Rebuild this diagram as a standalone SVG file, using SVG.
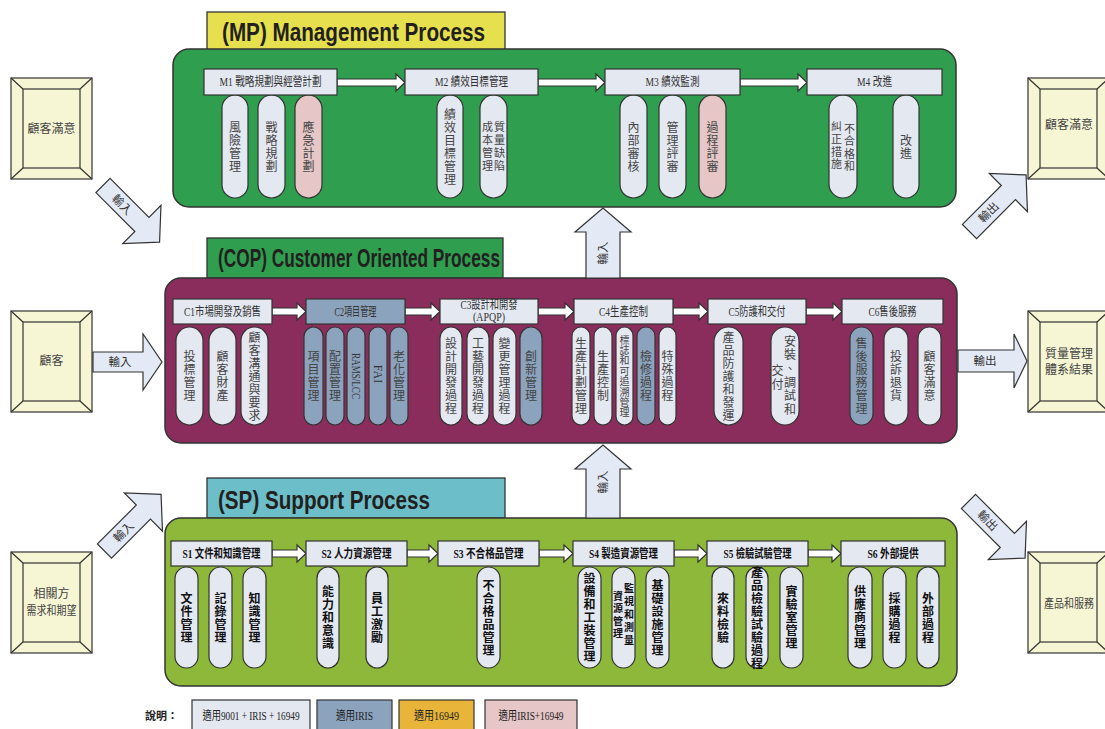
<svg xmlns="http://www.w3.org/2000/svg" width="1105" height="729" viewBox="0 0 1105 729">
<style>
text{font-family:"Liberation Serif","Noto Sans CJK TC",serif;}
.title{font-family:"Liberation Sans","Noto Sans CJK TC",sans-serif;font-weight:bold;font-size:25px;fill:#231f20;}
.sec{stroke:#333;stroke-width:1.5;}
.tbox{stroke:#333;stroke-width:1.3;}
.hdr{fill:#E4E8F1;stroke:#333;stroke-width:1.2;}
.hdrb{fill:#8CA3BE;stroke:#333;stroke-width:1.2;}
.pill{fill:#E4E8F1;stroke:#333;stroke-width:1.2;}
.pb{fill:#8CA3BE;}
.pp{fill:#E6C6C6;}
.ht{font-size:12.5px;fill:#333;text-anchor:middle;dominant-baseline:central;}
.hts{font-size:12.5px;fill:#111;font-weight:bold;text-anchor:middle;dominant-baseline:central;}
.v,.vs,.vb,.vbs{font-family:"Noto Sans CJK TC","Noto Sans CJK JP",sans-serif;writing-mode:vertical-rl;font-size:12px;letter-spacing:1px;}
.v{text-anchor:middle;fill:#444;}
.vs{text-anchor:start;fill:#444;}
.vb{text-anchor:middle;fill:#111;font-weight:bold;}
.vbs{text-anchor:start;fill:#111;font-weight:bold;}
.lat{font-family:"Liberation Serif",serif;font-size:12px;fill:#333;text-anchor:middle;dominant-baseline:central;}
.conn{fill:#fff;stroke:#333;stroke-width:1.2;}
.io{fill:#E3EAF5;stroke:#333;stroke-width:1.2;}
.iot{font-size:11.5px;fill:#333;text-anchor:middle;dominant-baseline:central;}
.frame{fill:#F7F6D4;stroke:#333;stroke-width:1.2;}
.ft{font-size:12px;fill:#444;text-anchor:middle;dominant-baseline:central;}
.lg{stroke:#333;stroke-width:1.2;}
.lt{font-size:12px;fill:#222;text-anchor:middle;dominant-baseline:central;}
</style>

<!-- Section: MP -->
<g id="mp-section">
<rect class="tbox" x="207" y="12" width="298" height="38" fill="#E6E04E"/>
<text class="title" x="222" y="41" textLength="263" lengthAdjust="spacingAndGlyphs">(MP) Management Process</text>
<rect class="sec" x="173" y="49" width="783" height="158" rx="16" fill="#2F9E4F"/>
</g>
<!-- Section: COP -->
<g id="cop-section">
<rect class="tbox" x="207" y="238" width="296" height="40" fill="#2F9E4F"/>
<text class="title" x="218" y="267" textLength="282" lengthAdjust="spacingAndGlyphs">(COP) Customer Oriented Process</text>
<rect class="sec" x="165" y="278" width="792" height="165" rx="16" fill="#8B2D5C"/>
</g>
<!-- Section: SP -->
<g id="sp-section">
<rect class="tbox" x="207" y="478" width="298" height="40" fill="#6CBFC8"/>
<text class="title" x="218" y="509" textLength="212" lengthAdjust="spacingAndGlyphs">(SP) Support Process</text>
<rect class="sec" x="165" y="518" width="792" height="168" rx="16" fill="#8DB83A"/>
</g>

<!-- Connectors -->
<g id="connectors">
<path class="conn" d="M337,79 L396,79 L396,74 L405,82.5 L396,91 L396,86 L337,86 Z"/>
<path class="conn" d="M538,79 L596,79 L596,74 L605,82.5 L596,91 L596,86 L538,86 Z"/>
<path class="conn" d="M740,79 L798,79 L798,74 L807,82.5 L798,91 L798,86 L740,86 Z"/>
<path class="conn" d="M272,308 L297,308 L297,303 L306,311.5 L297,320 L297,315 L272,315 Z"/>
<path class="conn" d="M405,308 L431,308 L431,303 L440,311.5 L431,320 L431,315 L405,315 Z"/>
<path class="conn" d="M538,308 L565,308 L565,303 L574,311.5 L565,320 L565,315 L538,315 Z"/>
<path class="conn" d="M673,308 L699,308 L699,303 L708,311.5 L699,320 L699,315 L673,315 Z"/>
<path class="conn" d="M806,308 L833,308 L833,303 L842,311.5 L833,320 L833,315 L806,315 Z"/>
<path class="conn" d="M272,550 L297,550 L297,545 L306,553.5 L297,562 L297,557 L272,557 Z"/>
<path class="conn" d="M407,550 L429,550 L429,545 L438,553.5 L429,562 L429,557 L407,557 Z"/>
<path class="conn" d="M539,550 L564,550 L564,545 L573,553.5 L564,562 L564,557 L539,557 Z"/>
<path class="conn" d="M674,550 L698,550 L698,545 L707,553.5 L698,562 L698,557 L674,557 Z"/>
<path class="conn" d="M808,550 L832,550 L832,545 L841,553.5 L832,562 L832,557 L808,557 Z"/>
<g transform="translate(103,185.5) rotate(45)"><path class="io" d="M0,-10 L55,-10 L55,-27 L80,0 L55,27 L55,10 L0,10 Z"/><text class="iot" x="27" y="0">輸入</text></g>
<g transform="translate(93,362)"><path class="io" d="M0,-10 L50,-10 L50,-28 L69,0 L50,28 L50,10 L0,10 Z"/><text class="iot" x="27" y="0">輸入</text></g>
<g transform="translate(104.5,551) rotate(-45)"><path class="io" d="M0,-10 L55,-10 L55,-27 L80,0 L55,27 L55,10 L0,10 Z"/><text class="iot" x="27" y="0">輸入</text></g>
<g transform="translate(969.5,231.5) rotate(-45)"><path class="io" d="M0,-10 L55,-10 L55,-27 L80,0 L55,27 L55,10 L0,10 Z"/><text class="iot" x="27" y="0">輸出</text></g>
<g transform="translate(958,361)"><path class="io" d="M0,-11 L56,-11 L56,-27 L69,0 L56,27 L56,11 L0,11 Z"/><text class="iot" x="27" y="0">輸出</text></g>
<g transform="translate(968.5,501.5) rotate(45)"><path class="io" d="M0,-10 L55,-10 L55,-27 L80,0 L55,27 L55,10 L0,10 Z"/><text class="iot" x="27" y="0">輸出</text></g>
<g transform="translate(603,278) rotate(-90)"><path class="io" d="M0,-17 L46,-17 L46,-28 L70,0 L46,28 L46,17 L0,17 Z"/><text class="iot" x="25" y="0">輸入</text></g>
<g transform="translate(603,518) rotate(-90)"><path class="io" d="M0,-17 L49,-17 L49,-28 L73,0 L49,28 L49,17 L0,17 Z"/><text class="iot" x="36" y="0">輸入</text></g>
</g>

<!-- Left frames -->
<g id="in-satisfaction"><rect class="frame" x="11" y="78" width="81" height="101"/><rect class="frame" x="23" y="89" width="57" height="79"/><path class="frame" d="M11,78 L23,89 M92,78 L80,89 M11,179 L23,168 M92,179 L80,168"/><text class="ft" x="51.5" y="128.5">顧客滿意</text></g>
<g id="in-customer"><rect class="frame" x="11" y="311" width="81" height="101"/><rect class="frame" x="23" y="322" width="57" height="79"/><path class="frame" d="M11,311 L23,322 M92,311 L80,322 M11,412 L23,401 M92,412 L80,401"/><text class="ft" x="51.5" y="361">顧客</text></g>
<g id="in-parties"><rect class="frame" x="11" y="552" width="81" height="101"/><rect class="frame" x="23" y="563" width="57" height="79"/><path class="frame" d="M11,552 L23,563 M92,552 L80,563 M11,653 L23,642 M92,653 L80,642"/><text class="ft" x="51.5" y="594">相關方</text><text class="ft" x="51.5" y="611" textLength="50" lengthAdjust="spacingAndGlyphs">需求和期望</text></g>
<!-- Right frames -->
<g id="out-satisfaction"><rect class="frame" x="1028" y="78" width="81" height="101"/><rect class="frame" x="1040" y="89" width="57" height="79"/><path class="frame" d="M1028,78 L1040,89 M1109,78 L1097,89 M1028,179 L1040,168 M1109,179 L1097,168"/><text class="ft" x="1069" y="125">顧客滿意</text></g>
<g id="out-qms"><rect class="frame" x="1028" y="311" width="81" height="101"/><rect class="frame" x="1040" y="322" width="57" height="79"/><path class="frame" d="M1028,311 L1040,322 M1109,311 L1097,322 M1028,412 L1040,401 M1109,412 L1097,401"/><text class="ft" x="1069" y="354">質量管理</text><text class="ft" x="1069" y="370">體系結果</text></g>
<g id="out-products"><rect class="frame" x="1028" y="552" width="81" height="101"/><rect class="frame" x="1040" y="563" width="57" height="79"/><path class="frame" d="M1028,552 L1040,563 M1109,552 L1097,563 M1028,653 L1040,642 M1109,653 L1097,642"/><text class="ft" x="1069" y="604" textLength="50" lengthAdjust="spacingAndGlyphs">產品和服務</text></g>

<!-- MP nodes -->
<g id="m1-p1"><rect class="pill" x="222" y="95" width="26" height="103" rx="13"/><text class="v" x="235" y="147">風險管理</text></g>
<g id="m1-p2"><rect class="pill" x="258" y="95" width="27" height="103" rx="13.5"/><text class="v" x="271.5" y="147">戰略規劃</text></g>
<g id="m1-p3"><rect class="pill pp" x="295" y="95" width="27" height="103" rx="13.5"/><text class="v" x="308.5" y="147">應急計劃</text></g>
<g id="m2-p1"><rect class="pill" x="437" y="95" width="26" height="103" rx="13"/><text class="v" x="450" y="147">績效目標管理</text></g>
<g id="m2-p2"><rect class="pill" x="480" y="95" width="27" height="103" rx="13.5"/><text class="vs" style="font-size:11px;letter-spacing:2px"><tspan x="499.5" y="121">質量缺陷</tspan><tspan x="487.5" y="121">成本管理</tspan></text></g>
<g id="m3-p1"><rect class="pill" x="620" y="95" width="27" height="103" rx="13.5"/><text class="v" x="633.5" y="147">內部審核</text></g>
<g id="m3-p2"><rect class="pill" x="659" y="95" width="27" height="103" rx="13.5"/><text class="v" x="672.5" y="147">管理評審</text></g>
<g id="m3-p3"><rect class="pill pp" x="699" y="95" width="27" height="103" rx="13.5"/><text class="v" x="712.5" y="147">過程評審</text></g>
<g id="m4-p1"><rect class="pill" x="829" y="95" width="28" height="103" rx="14"/><text class="vs" style="font-size:11px;letter-spacing:1.5px"><tspan x="849.5" y="123">不合格和</tspan><tspan x="836.5" y="121">糾正措施</tspan></text></g>
<g id="m4-p2"><rect class="pill" x="893" y="95" width="26" height="103" rx="13"/><text class="v" x="906" y="147">改進</text></g>
<g id="m1"><rect class="hdr" x="204" y="69" width="133" height="26"/><text class="ht" x="270.5" y="82" textLength="102" lengthAdjust="spacingAndGlyphs">M1 戰略規劃與經營計劃</text></g>
<g id="m2"><rect class="hdr" x="405" y="69" width="133" height="26"/><text class="ht" x="471.5" y="82" textLength="73" lengthAdjust="spacingAndGlyphs">M2 績效目標管理</text></g>
<g id="m3"><rect class="hdr" x="605" y="69" width="135" height="26"/><text class="ht" x="672.5" y="82" textLength="54" lengthAdjust="spacingAndGlyphs">M3 績效監測</text></g>
<g id="m4"><rect class="hdr" x="807" y="69" width="135" height="26"/><text class="ht" x="874.5" y="82" textLength="35" lengthAdjust="spacingAndGlyphs">M4 改進</text></g>

<!-- COP nodes -->
<g id="c1-p1"><rect class="pill" x="176" y="327" width="27" height="98" rx="13.5"/><text class="v" x="189.5" y="376.5">投標管理</text></g>
<g id="c1-p2"><rect class="pill" x="209" y="327" width="27" height="98" rx="13.5"/><text class="v" x="222.5" y="376.5">顧客財產</text></g>
<g id="c1-p3"><rect class="pill" x="241" y="327" width="27" height="98" rx="13.5"/><text class="v" x="254.5" y="376.5">顧客溝通與要求</text></g>
<g id="c2-p1"><rect class="pill pb" x="304" y="327" width="19" height="98" rx="9.5"/><text class="v" x="313.5" y="376.5">項目管理</text></g>
<g id="c2-p2"><rect class="pill pb" x="326" y="327" width="18" height="98" rx="9"/><text class="v" x="335" y="376.5">配置管理</text></g>
<g id="c2-p3"><rect class="pill pb" x="347" y="327" width="18" height="98" rx="9"/><text class="lat" transform="translate(356,376) rotate(90)" x="0" y="0" textLength="46" lengthAdjust="spacingAndGlyphs">RAMS/LCC</text></g>
<g id="c2-p4"><rect class="pill pb" x="369" y="327" width="18" height="98" rx="9"/><text class="lat" transform="translate(378,374) rotate(90)" x="0" y="0">FAI</text></g>
<g id="c2-p5"><rect class="pill pb" x="390" y="327" width="18" height="98" rx="9"/><text class="v" x="399" y="376.5">老化管理</text></g>
<g id="c3-p1"><rect class="pill" x="440" y="327" width="22" height="98" rx="11"/><text class="v" x="451" y="376.5">設計開發過程</text></g>
<g id="c3-p2"><rect class="pill" x="467" y="327" width="22" height="98" rx="11"/><text class="v" x="478" y="376.5">工藝開發過程</text></g>
<g id="c3-p3"><rect class="pill" x="493" y="327" width="23" height="98" rx="11.5"/><text class="v" x="504.5" y="376.5">變更管理過程</text></g>
<g id="c3-p4"><rect class="pill pb" x="520" y="327" width="22" height="98" rx="11"/><text class="v" x="531" y="376.5">創新管理</text></g>
<g id="c4-p1"><rect class="pill" x="572" y="327" width="18" height="98" rx="9"/><text class="v" x="581" y="376.5">生產計劃管理</text></g>
<g id="c4-p2"><rect class="pill" x="594" y="327" width="18" height="98" rx="9"/><text class="v" x="603" y="376.5">生產控制</text></g>
<g id="c4-p3"><rect class="pill" x="616" y="327" width="17" height="98" rx="8.5"/><text class="v" x="624.5" y="376.5" style="font-size:10px;letter-spacing:0.4px">標誌和可追溯管理</text></g>
<g id="c4-p4"><rect class="pill pb" x="637" y="327" width="18" height="98" rx="9"/><text class="v" x="646" y="376.5">檢修過程</text></g>
<g id="c4-p5"><rect class="pill" x="659" y="327" width="17" height="98" rx="8.5"/><text class="v" x="667.5" y="376.5">特殊過程</text></g>
<g id="c5-p1"><rect class="pill" x="714" y="327" width="29" height="98" rx="14.5"/><text class="v" x="728.5" y="376.5">產品防護和發運</text></g>
<g id="c5-p2"><rect class="pill" x="771" y="327" width="28" height="98" rx="14"/><text class="vs" style="letter-spacing:1.7px"><tspan x="790" y="335">安裝、調試和</tspan><tspan x="777.5" y="364.5">交付</tspan></text></g>
<g id="c6-p1"><rect class="pill pb" x="850" y="327" width="23" height="98" rx="11.5"/><text class="v" x="861.5" y="376.5">售後服務管理</text></g>
<g id="c6-p2"><rect class="pill" x="884" y="327" width="24" height="98" rx="12"/><text class="v" x="896" y="376.5">投訴退貨</text></g>
<g id="c6-p3"><rect class="pill" x="918" y="327" width="23" height="98" rx="11.5"/><text class="v" x="929.5" y="376.5">顧客滿意</text></g>
<g id="c1"><rect class="hdr" x="173" y="299" width="99" height="25"/><text class="ht" x="222.5" y="311.5" textLength="77" lengthAdjust="spacingAndGlyphs">C1市場開發及銷售</text></g>
<g id="c2"><rect class="hdrb" x="306" y="299" width="99" height="25"/><text class="ht" x="355.5" y="311.5" textLength="42" lengthAdjust="spacingAndGlyphs">C2項目管理</text></g>
<g id="c3"><rect class="hdr" x="440" y="299" width="98" height="25"/><text class="ht" x="489" y="305" textLength="57" lengthAdjust="spacingAndGlyphs">C3設計和開發</text><text class="ht" x="489" y="317" textLength="32" lengthAdjust="spacingAndGlyphs">(APQP)</text></g>
<g id="c4"><rect class="hdr" x="574" y="299" width="99" height="25"/><text class="ht" x="623.5" y="311.5" textLength="49" lengthAdjust="spacingAndGlyphs">C4生產控制</text></g>
<g id="c5"><rect class="hdr" x="708" y="299" width="98" height="25"/><text class="ht" x="757" y="311.5" textLength="57" lengthAdjust="spacingAndGlyphs">C5防護和交付</text></g>
<g id="c6"><rect class="hdr" x="842" y="299" width="101" height="25"/><text class="ht" x="892.5" y="311.5" textLength="48" lengthAdjust="spacingAndGlyphs">C6售後服務</text></g>

<!-- SP nodes -->
<g id="s1-p1"><rect class="pill" x="175" y="567" width="23" height="101" rx="11.5"/><text class="vb" x="186.5" y="618">文件管理</text></g>
<g id="s1-p2"><rect class="pill" x="209" y="567" width="23" height="101" rx="11.5"/><text class="vb" x="220.5" y="618">記錄管理</text></g>
<g id="s1-p3"><rect class="pill" x="243" y="567" width="23" height="101" rx="11.5"/><text class="vb" x="254.5" y="618">知識管理</text></g>
<g id="s2-p1"><rect class="pill" x="317" y="567" width="22" height="101" rx="11"/><text class="vb" x="328" y="618">能力和意識</text></g>
<g id="s2-p2"><rect class="pill" x="366" y="567" width="22" height="101" rx="11"/><text class="vb" x="377" y="618">員工激勵</text></g>
<g id="s3-p1"><rect class="pill" x="477" y="567" width="23" height="101" rx="11.5"/><text class="vb" x="488.5" y="618">不合格品管理</text></g>
<g id="s4-p1"><rect class="pill" x="578" y="567" width="23" height="101" rx="11.5"/><text class="vb" x="589.5" y="618">設備和工裝管理</text></g>
<g id="s4-p2"><rect class="pill" x="612" y="567" width="23" height="101" rx="11.5"/><text class="vbs" style="font-size:10px;letter-spacing:3px"><tspan x="629" y="583">監視和測量</tspan><tspan x="618" y="591" style="letter-spacing:2.5px">資源管理</tspan></text></g>
<g id="s4-p3"><rect class="pill" x="646" y="567" width="23" height="101" rx="11.5"/><text class="vb" x="657.5" y="618">基礎設施管理</text></g>
<g id="s5-p1"><rect class="pill" x="712" y="567" width="22" height="101" rx="11"/><text class="vb" x="723" y="618">來料檢驗</text></g>
<g id="s5-p2"><rect class="pill" x="746" y="567" width="22" height="101" rx="11"/><text class="vb" x="757" y="618">產品檢驗試驗過程</text></g>
<g id="s5-p3"><rect class="pill" x="780" y="567" width="23" height="101" rx="11.5"/><text class="vb" x="791.5" y="618">實驗室管理</text></g>
<g id="s6-p1"><rect class="pill" x="848" y="567" width="24" height="101" rx="12"/><text class="vb" x="860" y="618">供應商管理</text></g>
<g id="s6-p2"><rect class="pill" x="883" y="567" width="23" height="101" rx="11.5"/><text class="vb" x="894.5" y="618">採購過程</text></g>
<g id="s6-p3"><rect class="pill" x="917" y="567" width="22" height="101" rx="11"/><text class="vb" x="928" y="618">外部過程</text></g>
<g id="s1"><rect class="hdr" x="171" y="541" width="101" height="25"/><text class="hts" x="221.5" y="553.5" textLength="78" lengthAdjust="spacingAndGlyphs">S1 文件和知識管理</text></g>
<g id="s2"><rect class="hdr" x="306" y="541" width="101" height="25"/><text class="hts" x="356.5" y="553.5" textLength="70" lengthAdjust="spacingAndGlyphs">S2 人力資源管理</text></g>
<g id="s3"><rect class="hdr" x="438" y="541" width="101" height="25"/><text class="hts" x="488.5" y="553.5" textLength="70" lengthAdjust="spacingAndGlyphs">S3 不合格品管理</text></g>
<g id="s4"><rect class="hdr" x="573" y="541" width="101" height="25"/><text class="hts" x="623.5" y="553.5" textLength="69" lengthAdjust="spacingAndGlyphs">S4 製造資源管理</text></g>
<g id="s5"><rect class="hdr" x="707" y="541" width="101" height="25"/><text class="hts" x="757.5" y="553.5" textLength="68" lengthAdjust="spacingAndGlyphs">S5 檢驗試驗管理</text></g>
<g id="s6"><rect class="hdr" x="841" y="541" width="104" height="25"/><text class="hts" x="893" y="553.5" textLength="51" lengthAdjust="spacingAndGlyphs">S6 外部提供</text></g>

<!-- Legend -->
<g id="legend">
<text x="145" y="716" style="font-size:11px;font-weight:bold;fill:#222;dominant-baseline:central">說明：</text>
<rect class="lg" x="192" y="700" width="118" height="36" fill="#E4E8F1"/>
<text class="lt" x="251" y="716" textLength="97" lengthAdjust="spacingAndGlyphs">適用9001 + IRIS + 16949</text>
<rect class="lg" x="317" y="700" width="75" height="36" fill="#8CA3BE"/>
<text class="lt" x="354.5" y="716" textLength="37" lengthAdjust="spacingAndGlyphs">適用IRIS</text>
<rect class="lg" x="399" y="700" width="75" height="36" fill="#E8B43A"/>
<text class="lt" x="436.5" y="716" textLength="45" lengthAdjust="spacingAndGlyphs">適用16949</text>
<rect class="lg" x="485" y="700" width="92" height="36" fill="#E6C6C6"/>
<text class="lt" x="531" y="716" textLength="65" lengthAdjust="spacingAndGlyphs">適用IRIS+16949</text>
</g>
</svg>
